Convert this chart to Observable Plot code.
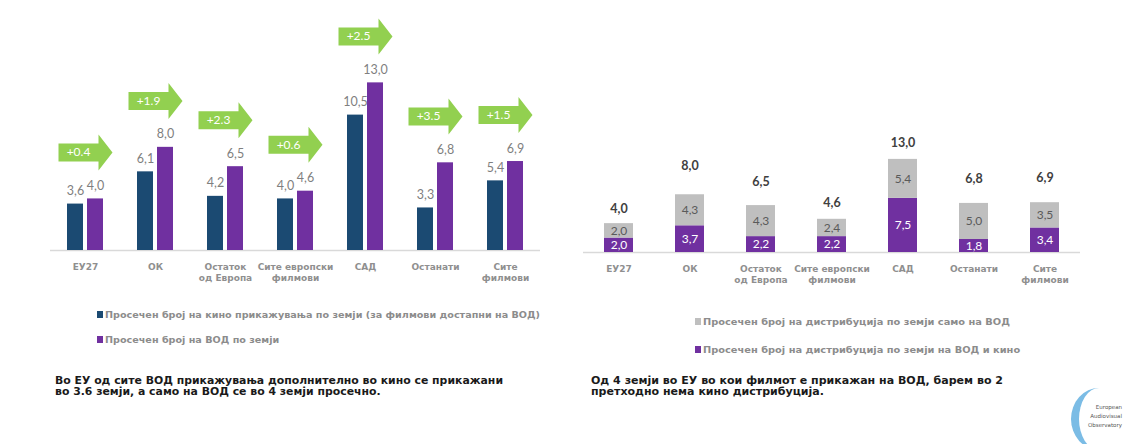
<!DOCTYPE html>
<html><head><meta charset="utf-8">
<script src="https://cdn.jsdelivr.net/npm/d3@7"></script>
<script src="https://cdn.jsdelivr.net/npm/@observablehq/plot@0.6"></script>
<style>
body{margin:0;background:#fff;width:1129px;height:444px;position:relative;overflow:hidden;font-family:"DejaVu Sans",sans-serif}
#left{position:absolute;left:0;top:0}
#right{position:absolute;left:560px;top:0}
.sw{position:absolute;width:6px;height:7px}
.leg{position:absolute;white-space:nowrap;font-size:9.5px;font-weight:bold;color:#8c8c8c;line-height:12px;transform-origin:left center}
.cap{position:absolute;white-space:nowrap;font-size:10px;font-weight:bold;color:#1a1a1a;line-height:10.5px;transform-origin:left top}
#logo{position:absolute;left:1071px;top:388px;width:56px;height:62px;border-radius:50%;border-left:8px solid #6db5e3;box-sizing:border-box;opacity:0.9}
#logotxt{position:absolute;left:1088px;top:403px;font-size:5.5px;line-height:9px;color:#555;font-family:"DejaVu Sans",sans-serif;text-align:right}
</style></head><body>
<div id="left"></div>
<div id="right"></div>
<div id="legends"></div>
<div id="logo"></div>
<div id="logotxt">European<br>Audiovisual<br>Observatory</div>
<script>
const categories = ["ЕУ27", "ОК", "Остаток\nод Европа", "Сите европски\nфилмови", "САД", "Останати", "Сите\nфилмови"];
// left chart
const cinemaCountries = [3.6, 6.1, 4.2, 4.0, 10.5, 3.3, 5.4];
const vodCountries = [4.0, 8.0, 6.5, 4.6, 13.0, 6.8, 6.9];
const increaseLabels = ["+0.4", "+1.9", "+2.3", "+0.6", "+2.5", "+3.5", "+1.5"];
const leftSeries = ["Просечен број на кино прикажувања по земји (за филмови достапни на ВОД)", "Просечен број на ВОД по земји"];
// right chart
const vodAndCinema = [2.0, 3.7, 2.2, 2.2, 7.5, 1.8, 3.4];
const vodOnly = [2.0, 4.3, 4.3, 2.4, 5.4, 5.0, 3.5];
const totals = [4.0, 8.0, 6.5, 4.6, 13.0, 6.8, 6.9];
const rightSeries = ["Просечен број на дистрибуција по земји само на ВОД", "Просечен број на дистрибуција по земји на ВОД и кино"];
const captionLeft = ["Во ЕУ од сите ВОД прикажувања дополнително во кино се прикажани", "во 3.6 земји, а само на ВОД се во 4 земји просечно."];
const captionRight = ["Од 4 земји во ЕУ во кои филмот е прикажан на ВОД, барем во 2", "претходно нема кино дистрибуција."];

const NAVY = "#1b4a72", PURPLE = "#7030a0", GREEN = "#92d050", GRAYBAR = "#bfbfbf";
const fmt = v => v.toFixed(1).replace(".", ",");

const leftRows = categories.flatMap((c, i) => [
  {cat: c, s: "cinema", v: cinemaCountries[i]},
  {cat: c, s: "vod", v: vodCountries[i]}
]);
const groups = categories.map((c, i) => ({cat: c, max: Math.max(cinemaCountries[i], vodCountries[i]), inc: increaseLabels[i]}));

const arrow = {
  draw(ctx) {
    ctx.moveTo(-27, -9); ctx.lineTo(13, -9); ctx.lineTo(13, -18); ctx.lineTo(27, 0);
    ctx.lineTo(13, 18); ctx.lineTo(13, 9); ctx.lineTo(-27, 9); ctx.closePath();
  }
};

const catLabels = opts => Plot.text(categories, {
  fx: d => d, text: d => d, frameAnchor: "bottom", lineAnchor: "top", dy: 12,
  fontFamily: "DejaVu Sans", fontSize: 9, fontWeight: "bold", fill: "#8f8f8f", lineHeight: 1.2, ...opts
});

const left = Plot.plot({
  width: 560, height: 290, marginLeft: 50, marginRight: 20, marginTop: 5, marginBottom: 40,
  fx: {domain: categories, padding: 0, axis: null},
  x: {domain: ["cinema", "vod"], paddingInner: 0.2, paddingOuter: 0.85, axis: null},
  y: {domain: [0, 19], axis: null},
  color: {domain: ["cinema", "vod"], range: [NAVY, PURPLE]},
  style: {fontFamily: "Lato", background: "transparent", overflow: "visible"},
  marks: [
    Plot.ruleY([0], {stroke: "#d9d9d9", strokeWidth: 1.5}),
    Plot.barY(leftRows, {fx: "cat", x: "s", y: "v", fill: "s"}),
    Plot.text(leftRows, {fx: "cat", x: "s", y: "v", text: d => fmt(d.v), dy: -13, fill: "#7f7f7f", fontSize: 12.5}),
    Plot.dot(groups, {fx: "cat", y: d => d.max + 3.6, symbol: arrow, r: 10, fill: GREEN, stroke: null}),
    Plot.text(groups, {fx: "cat", y: d => d.max + 3.6, text: "inc", dx: -7, fill: "white", fontSize: 12}),
    catLabels({})
  ]
});
document.getElementById("left").append(left);

const rightRows = categories.flatMap((c, i) => [
  {cat: c, s: "both", v: vodAndCinema[i]},
  {cat: c, s: "only", v: vodOnly[i]}
]);
const totalRows = categories.map((c, i) => ({cat: c, t: totals[i]}));

const right = Plot.plot({
  width: 540, height: 290, marginLeft: 22, marginRight: 20, marginTop: 3, marginBottom: 38,
  fx: {domain: categories, padding: 0, axis: null},
  y: {domain: [0, 34.5], axis: null},
  color: {domain: ["both", "only"], range: [PURPLE, GRAYBAR]},
  style: {fontFamily: "Lato", background: "transparent", overflow: "visible"},
  marks: [
    Plot.ruleY([0], {stroke: "#d9d9d9", strokeWidth: 1.5}),
    Plot.barY(rightRows, {fx: "cat", y: "v", fill: "s", insetLeft: 21, insetRight: 21}),
    Plot.text(rightRows, Plot.stackY({fx: "cat", y: "v", text: d => d.s === "both" ? fmt(d.v) : "", fill: "white", fontSize: 12})),
    Plot.text(rightRows, Plot.stackY({fx: "cat", y: "v", text: d => d.s === "only" ? fmt(d.v) : "", fill: "#5a5a5a", fontSize: 12})),
    Plot.text(totalRows, {fx: "cat", y: d => Math.min(d.t * 1.5, 15.2), text: d => fmt(d.t), fill: "#404040", fontWeight: "bold", fontSize: 12.5}),
    catLabels({})
  ]
});
document.getElementById("right").append(right);

// legends and captions (HTML)
const L = document.getElementById("legends");
function add(cls, left, top, html, extra) {
  const el = document.createElement("div");
  el.className = cls; el.style.left = left + "px"; el.style.top = top + "px";
  if (html != null) el.innerHTML = html;
  if (extra) Object.assign(el.style, extra);
  L.append(el); return el;
}
function fitGroup(els, target) {
  const k = target / els[0].getBoundingClientRect().width;
  els.forEach(e => e.style.transform = `scaleX(${k})`);
}
add("sw", 97, 311, null, {background: NAVY});
add("sw", 97, 336, null, {background: PURPLE});
const l1 = add("leg", 105, 309, leftSeries[0]);
const l2 = add("leg", 105, 334, leftSeries[1]);
fitGroup([l1, l2], 435);
add("sw", 695, 318, null, {background: GRAYBAR});
add("sw", 695, 346, null, {background: PURPLE});
const r1 = add("leg", 703, 316, rightSeries[0]);
const r2 = add("leg", 703, 344, rightSeries[1]);
fitGroup([r1, r2], 307);
const c1 = add("cap", 55, 376, captionLeft.join("<br>"));
fitGroup([c1], 448);
const c2 = add("cap", 591, 376, captionRight.join("<br>"));
fitGroup([c2], 412);
</script>
</body></html>
